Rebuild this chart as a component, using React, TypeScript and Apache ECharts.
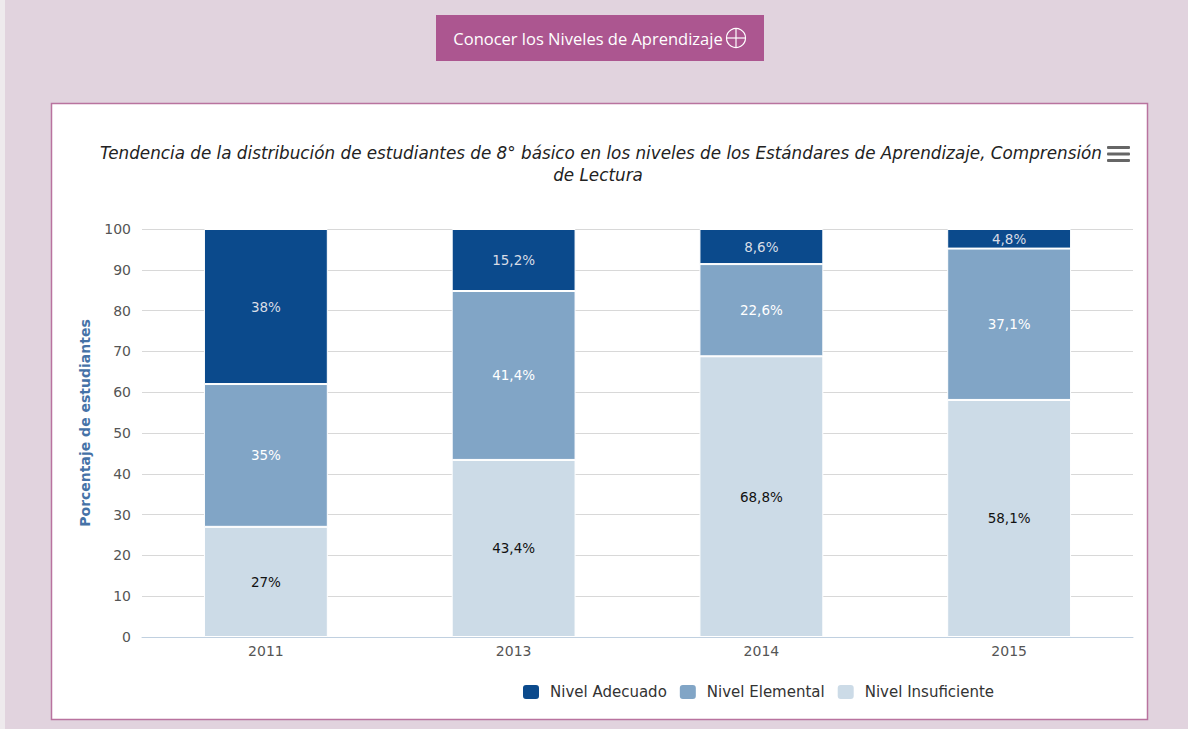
import React, { useEffect, useRef } from "react";
import * as echarts from "echarts";

const categories = ["2011", "2013", "2014", "2015"];
const insuficiente = [27, 43.4, 68.8, 58.1];
const elemental = [35, 41.4, 22.6, 37.1];
const adecuado = [38, 15.2, 8.6, 4.8];
const yTicks = [0, 10, 20, 30, 40, 50, 60, 70, 80, 90, 100];

const titleLine1 =
  "Tendencia de la distribución de estudiantes de 8° básico en los niveles de los Estándares de Aprendizaje, Comprensión";
const titleLine2 = "de Lectura";
const yAxisTitle = "Porcentaje de estudiantes";
const buttonText = "Conocer los Niveles de Aprendizaje";

const fmt = (v: number) => String(v).replace(".", ",") + "%";

export default function App() {
  const ref = useRef<HTMLDivElement>(null);
  useEffect(() => {
    if (!ref.current) return;
    const chart = echarts.init(ref.current, undefined, { renderer: "svg" });
    const font = "DejaVu Sans";
    const lbl = (color: string) => ({
      show: true,
      position: "inside" as const,
      fontFamily: font,
      fontSize: 13.5,
      color,
      formatter: (p: any) => fmt(p.value),
    });
    chart.setOption({
      animation: false,
      backgroundColor: "#e1d3de",
      graphic: [
        { type: "rect", shape: { x: 0, y: 0, width: 5, height: 729 }, style: { fill: "#eeeaed" }, z: -10 },
        {
          type: "rect",
          shape: { x: 436, y: 15, width: 328, height: 46 },
          style: { fill: "#ac5690" },
          z: -5,
        },
        {
          type: "text",
          x: 588,
          y: 38,
          style: {
            text: buttonText,
            fill: "#ffffff",
            font: "16.5px 'Open Sans'",
            textAlign: "center",
            textVerticalAlign: "middle",
          },
        },
        {
          type: "circle",
          shape: { cx: 736, cy: 38, r: 9.5 },
          style: { fill: "none", stroke: "#ffffff", lineWidth: 1.2 },
        },
        { type: "line", shape: { x1: 726.5, y1: 38, x2: 745.5, y2: 38 }, style: { stroke: "#ffffff", lineWidth: 1.2 } },
        { type: "line", shape: { x1: 736, y1: 28.5, x2: 736, y2: 47.5 }, style: { stroke: "#ffffff", lineWidth: 1.2 } },
        {
          type: "rect",
          shape: { x: 51.5, y: 103.5, width: 1096, height: 616 },
          style: { fill: "#ffffff", stroke: "#b9739f", lineWidth: 1.5 },
          z: -5,
        },
        {
          type: "text",
          x: 601,
          y: 153,
          style: {
            text: titleLine1,
            fill: "#222222",
            font: "italic 16.8px 'DejaVu Sans'",
            textAlign: "center",
            textVerticalAlign: "middle",
          },
        },
        {
          type: "text",
          x: 598,
          y: 175,
          style: {
            text: titleLine2,
            fill: "#222222",
            font: "italic 16.8px 'DejaVu Sans'",
            textAlign: "center",
            textVerticalAlign: "middle",
          },
        },
        {
          type: "text",
          x: 85,
          y: 423,
          rotation: Math.PI / 2,
          style: {
            text: yAxisTitle,
            fill: "#4572a7",
            font: "bold 14px 'DejaVu Sans'",
            textAlign: "center",
            textVerticalAlign: "middle",
          },
        },
        { type: "rect", shape: { x: 1107, y: 146, width: 23, height: 3, r: 1 }, style: { fill: "#666666" } },
        { type: "rect", shape: { x: 1107, y: 152.5, width: 23, height: 3, r: 1 }, style: { fill: "#666666" } },
        { type: "rect", shape: { x: 1107, y: 159, width: 23, height: 3, r: 1 }, style: { fill: "#666666" } },
      ],
      legend: {
        left: 516,
        top: 678,
        itemWidth: 18,
        itemHeight: 16,
        itemGap: 11,
        icon: "roundRect",
        textStyle: { fontFamily: font, fontSize: 15, color: "#333333", padding: [0, 0, 0, 5] },
        data: ["Nivel Adecuado", "Nivel Elemental", "Nivel Insuficiente"],
      },
      grid: { left: 142, right: 55, top: 229, bottom: 92 },
      xAxis: {
        type: "category",
        data: categories,
        axisLine: { lineStyle: { color: "#c0d0e0" } },
        axisTick: { length: 5, lineStyle: { color: "#c0d0e0" } },
        axisLabel: { fontFamily: font, fontSize: 14, color: "#555555", margin: 7 },
      },
      yAxis: {
        type: "value",
        min: 0,
        max: 100,
        interval: 10,
        axisLine: { show: false },
        axisTick: { show: false },
        axisLabel: {
          fontFamily: font,
          fontSize: 14,
          color: "#555555",
          margin: 11,
          formatter: (v: number) => (yTicks.includes(v) ? String(v) : ""),
        },
        splitLine: { lineStyle: { color: "#d8d8d8" } },
      },
      series: [
        {
          name: "Nivel Insuficiente",
          type: "bar",
          stack: "s",
          data: insuficiente,
          barWidth: "50%",
          itemStyle: { color: "#ccdbe7", borderColor: "#ffffff", borderWidth: 1 },
          label: lbl("#111111"),
        },
        {
          name: "Nivel Elemental",
          type: "bar",
          stack: "s",
          data: elemental,
          itemStyle: { color: "#81a5c6", borderColor: "#ffffff", borderWidth: 1 },
          label: lbl("#ffffff"),
        },
        {
          name: "Nivel Adecuado",
          type: "bar",
          stack: "s",
          data: adecuado,
          itemStyle: { color: "#0b4a8c", borderColor: "#ffffff", borderWidth: 1 },
          label: lbl("#d8dde6"),
        },
      ],
    });
    return () => chart.dispose();
  }, []);
  return (
    <div
      ref={ref}
      style={{ position: "absolute", left: 0, top: 0, width: 1188, height: 729 }}
    />
  );
}
